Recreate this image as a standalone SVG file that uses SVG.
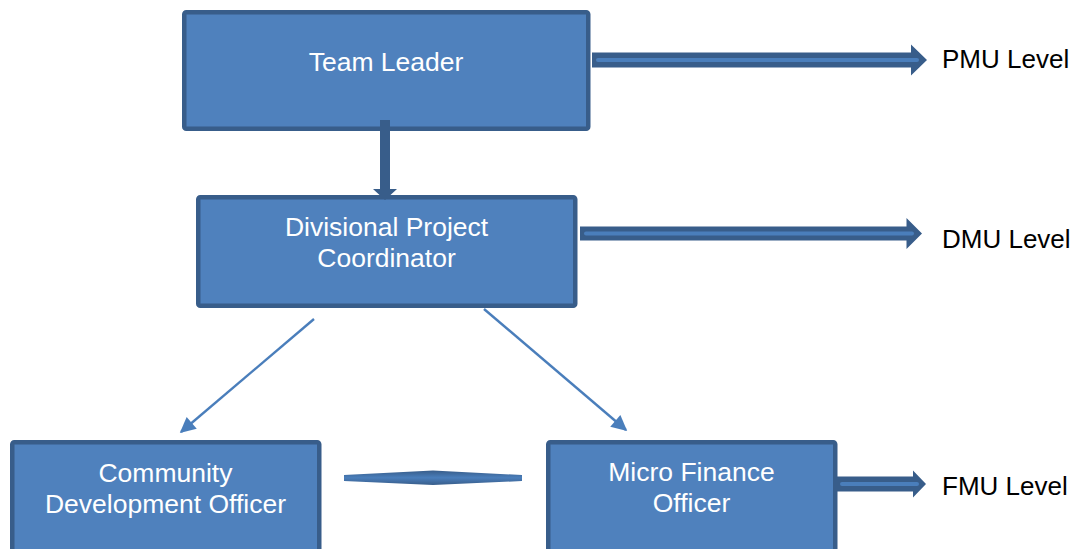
<svg xmlns="http://www.w3.org/2000/svg" width="1081" height="549" viewBox="0 0 1081 549">
<style>
.box{fill:#4f81bd;stroke:#385d8a;stroke-width:4.5}
.wt{fill:#ffffff;font-family:"Liberation Sans",Arial,sans-serif;font-size:26.5px;text-anchor:middle}
.lbl{fill:#000000;font-family:"Liberation Sans",Arial,sans-serif;font-size:26px}
.dark{fill:#385d8a}
.stripe{stroke:#4a7ebb;stroke-width:4;stroke-linecap:round}
.thin{stroke:#4a7ebb;stroke-width:2.4;fill:none;marker-end:url(#ah)}
</style>
<defs>
<marker id="ah" viewBox="0 0 10 10" refX="9" refY="5" markerWidth="7.5" markerHeight="6.5" orient="auto" markerUnits="strokeWidth">
<path d="M0,0 L10,5 L0,10 Z" fill="#4a7ebb"/>
</marker>
<linearGradient id="dg" x1="0" y1="0" x2="0" y2="1">
<stop offset="0" stop-color="#385d8a"/>
<stop offset="0.5" stop-color="#4a7ebb"/>
<stop offset="1" stop-color="#385d8a"/>
</linearGradient>
</defs>
<g id="team-leader">
<rect class="box" x="184.25" y="12.25" width="404" height="116.5" rx="2"/>
<text class="wt" x="386" y="71">Team Leader</text>
</g>
<g id="divisional-project-coordinator">
<rect class="box" x="198.25" y="197.25" width="377" height="108.5" rx="2"/>
<text class="wt" x="386.5" y="236">Divisional Project</text>
<text class="wt" x="386.5" y="267">Coordinator</text>
</g>
<g id="community-development-officer">
<rect class="box" x="12.25" y="442.25" width="307" height="130" rx="2"/>
<text class="wt" x="165.5" y="482">Community</text>
<text class="wt" x="165.5" y="513">Development Officer</text>
</g>
<g id="micro-finance-officer">
<rect class="box" x="548.25" y="442.25" width="287" height="130" rx="2"/>
<text class="wt" x="691.5" y="481">Micro Finance</text>
<text class="wt" x="691.5" y="512">Officer</text>
</g>
<g id="pmu-level"><text class="lbl" x="942" y="67.5">PMU Level</text></g>
<g id="dmu-level"><text class="lbl" x="942" y="247.5">DMU Level</text></g>
<g id="fmu-level"><text class="lbl" x="942" y="495">FMU Level</text></g>
<g id="connectors">
<polygon class="dark" points="380,120 390,120 390,189 397,189 385,200 373,189 380,189"/>
<polygon class="dark" points="592,52.5 911,52.5 911,44.5 927,60 911,75.5 911,67.5 592,67.5"/>
<line class="stripe" x1="598" y1="60" x2="917" y2="60"/>
<polygon class="dark" points="580,226.5 906.5,226.5 906.5,218 922,233.5 906.5,249 906.5,240.5 580,240.5"/>
<line class="stripe" x1="586" y1="233.5" x2="912" y2="233.5"/>
<polygon class="dark" points="837,476.5 913,476.5 913,470.5 926,484 913,497.5 913,491.5 837,491.5"/>
<line class="stripe" x1="842" y1="484" x2="917" y2="484"/>
<polygon fill="url(#dg)" points="344,475 433,470.5 522,475 522,481 433,485 344,481"/>
<line class="thin" x1="314" y1="319" x2="181" y2="432"/>
<line class="thin" x1="484" y1="309" x2="626" y2="430"/>
</g>
</svg>
